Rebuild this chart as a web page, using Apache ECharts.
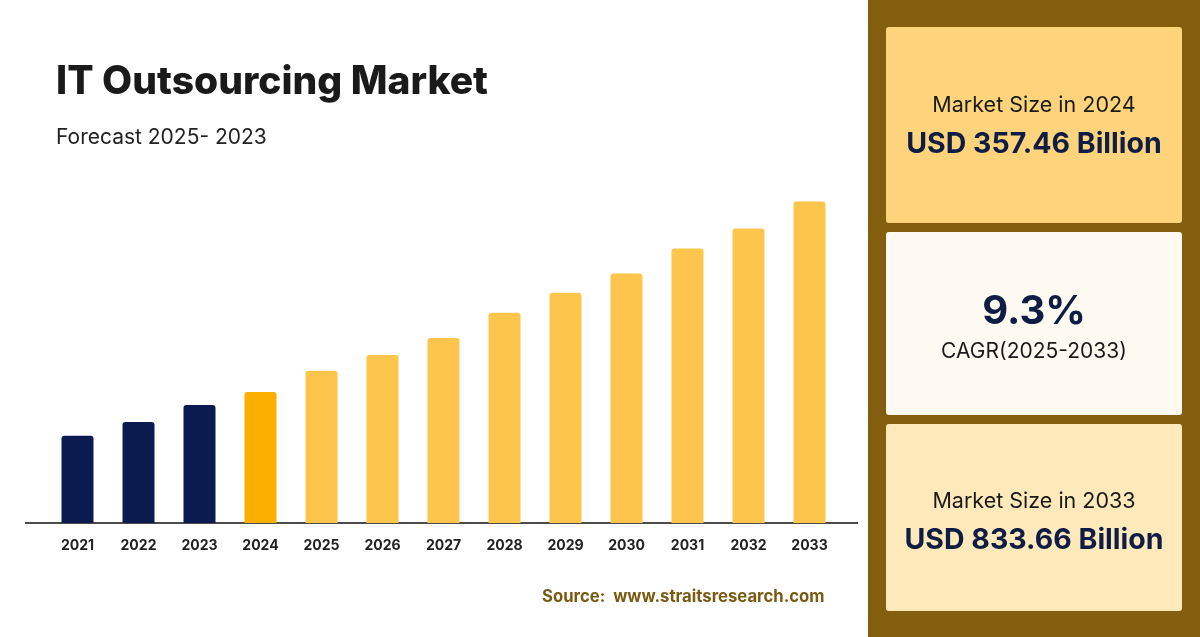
<!DOCTYPE html>
<html>
<head>
<meta charset="utf-8"/>
<style>
 html,body{margin:0;padding:0;background:#fff;}
 #main{width:1200px;height:637px;}
</style>
</head>
<body>
<div id="main"></div>
<script src="https://cdn.jsdelivr.net/npm/echarts@6/dist/echarts.min.js"></script>
<script type="text/javascript">
// years and market size (USD billion)
var years = ['2021','2022','2023','2024','2025','2026','2027','2028','2029','2030','2031','2032','2033'];
var values = [226, 262, 306, 340, 395, 436, 480, 545, 597, 647, 712, 764, 833.66];
var histColor = '#0b1a4f', baseColor = '#fbb000', fcColor = '#fdc54c';

var barData = values.map(function (v, i) {
  var c = i < 3 ? histColor : (i == 3 ? baseColor : fcColor);
  return { value: v, itemStyle: { color: c, borderRadius: [3, 3, 0, 0] } };
});

var font = 'Inter, "Noto Sans", sans-serif';
var myChart = echarts.init(document.getElementById('main'));
var options = {
  animation: false,
  grid: { left: 47, right: 360, top: 176, bottom: 114 },
  xAxis: {
    type: 'category', data: years,
    axisLine: { show: false }, axisTick: { show: false },
    axisLabel: { color: '#222', fontSize: 14, fontWeight: 'bold', fontFamily: font, margin: 16 }
  },
  yAxis: { type: 'value', min: 0, max: 900, show: false, splitLine: { show: false } },
  series: [{ type: 'bar', data: barData, barWidth: 32 }],
  graphic: [
    { type: 'line', shape: { x1: 25, y1: 523, x2: 858, y2: 523 }, style: { stroke: '#111', lineWidth: 1.5 } },
    { type: 'text', left: 56, top: 63, style: { text: 'IT Outsourcing Market', font: '800 39px ' + font, fill: '#1a1a1a' } },
    { type: 'text', left: 56, top: 127, style: { text: 'Forecast 2025- 2023', font: '21px ' + font, fill: '#222' } },
    { type: 'text', left: 542, top: 588, style: { text: 'Source:  www.straitsresearch.com', font: 'bold 16.7px ' + font, fill: '#7a5a10' } },
    { type: 'rect', shape: { x: 868, y: 0, width: 332, height: 637 }, style: { fill: '#845e0f' } },
    { type: 'rect', shape: { x: 886, y: 27, width: 296, height: 196, r: 3 }, style: { fill: '#fdd47c' } },
    { type: 'rect', shape: { x: 886, y: 232, width: 296, height: 183, r: 3 }, style: { fill: '#fffaf1' } },
    { type: 'rect', shape: { x: 886, y: 424, width: 296, height: 187, r: 3 }, style: { fill: '#fee9ba' } },
    { type: 'text', x: 1034, y: 106, style: { text: 'Market Size in 2024', font: '21.5px ' + font, fill: '#1a1a1a', align: 'center', verticalAlign: 'middle' } },
    { type: 'text', x: 1034, y: 144, style: { text: 'USD 357.46 Billion', font: 'bold 28.5px ' + font, fill: '#0f1d45', align: 'center', verticalAlign: 'middle' } },
    { type: 'text', x: 1034, y: 312, style: { text: '9.3%', font: 'bold 40px ' + font, fill: '#0f1d45', align: 'center', verticalAlign: 'middle' } },
    { type: 'text', x: 1034, y: 352, style: { text: 'CAGR(2025-2033)', font: '21px ' + font, fill: '#1a1a1a', align: 'center', verticalAlign: 'middle' } },
    { type: 'text', x: 1034, y: 502, style: { text: 'Market Size in 2033', font: '21.5px ' + font, fill: '#1a1a1a', align: 'center', verticalAlign: 'middle' } },
    { type: 'text', x: 1034, y: 540, style: { text: 'USD 833.66 Billion', font: 'bold 28.5px ' + font, fill: '#0f1d45', align: 'center', verticalAlign: 'middle' } }
  ]
};
myChart.setOption(options);
</script>
</body>
</html>
